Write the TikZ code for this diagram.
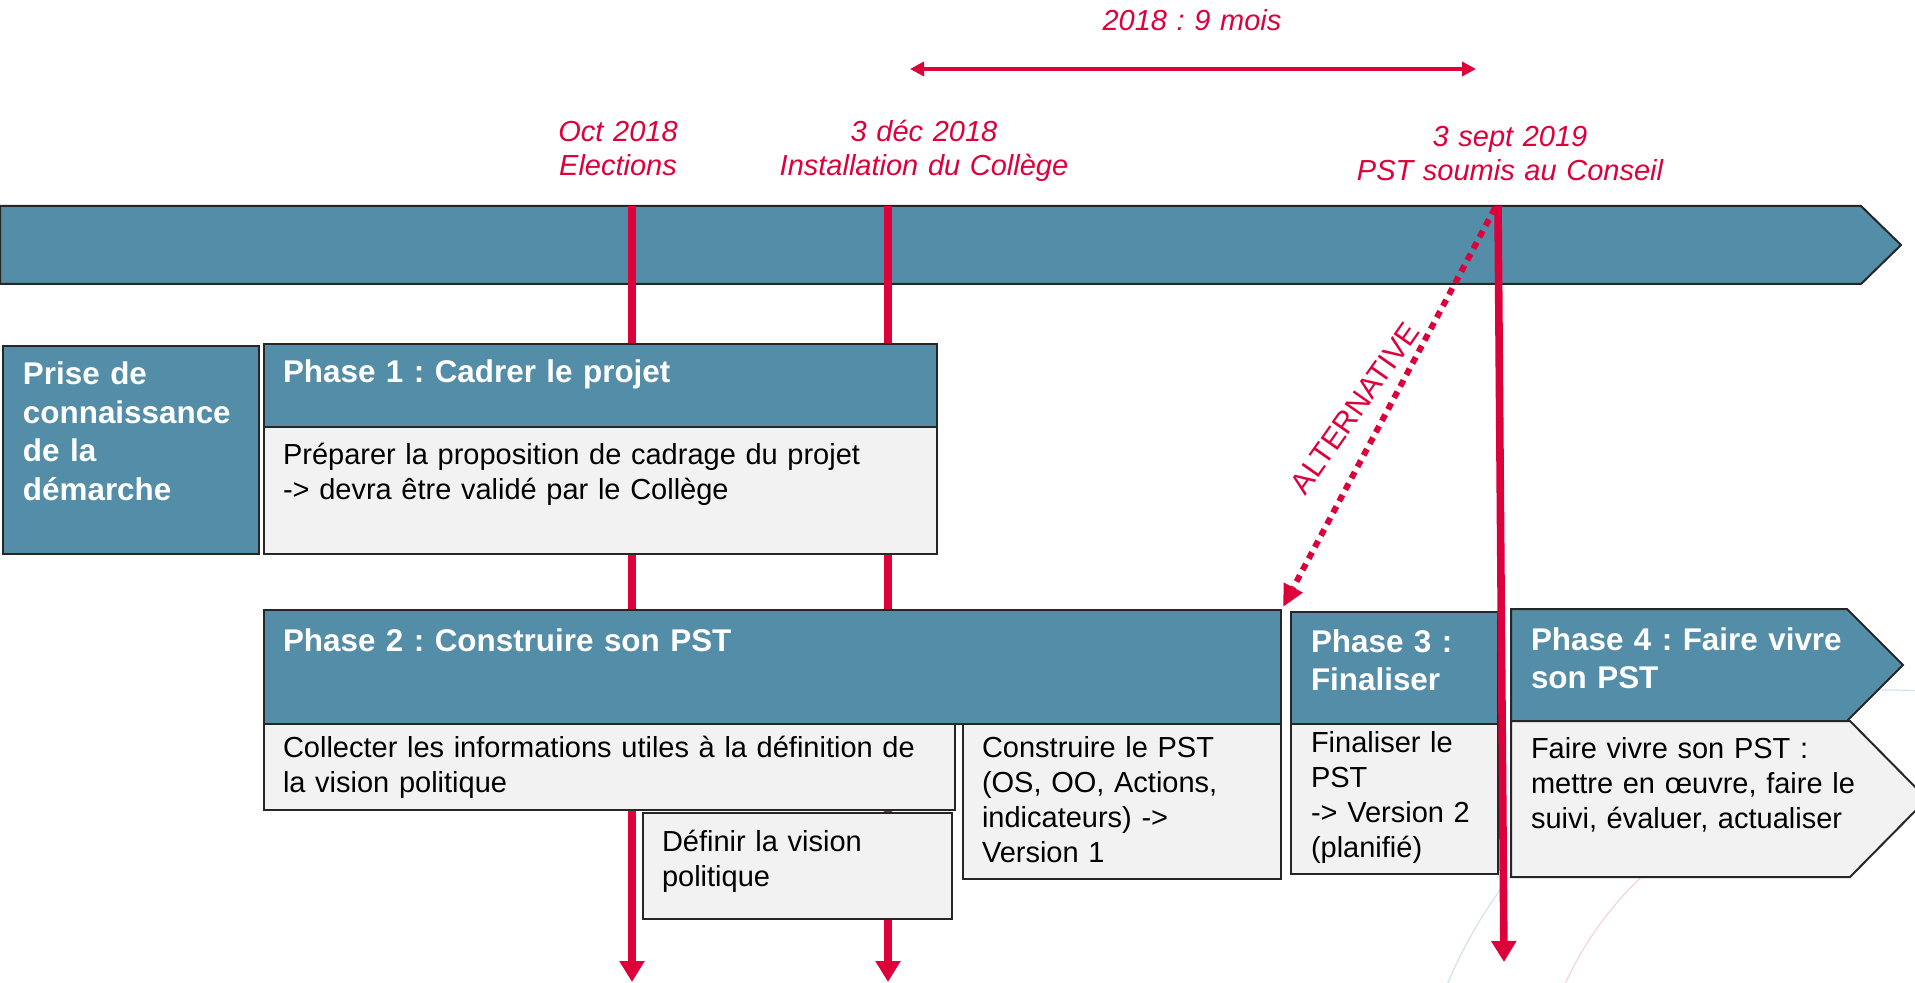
\documentclass[tikz,border=0pt]{standalone}
\usepackage{fontspec}
\setmainfont{Liberation Sans}
\usetikzlibrary{arrows.meta}
\definecolor{bleuphase}{HTML}{548DA8}
\definecolor{grisclair}{HTML}{F2F2F2}
\definecolor{rougejalon}{HTML}{DC003B}
\definecolor{bordure}{HTML}{262626}
\definecolor{arcbleu}{HTML}{D3E2EA}
\definecolor{arcrose}{HTML}{F4D3DC}
\frenchspacing

\begin{document}
\begin{tikzpicture}[x=0.5pt, y=-0.5pt, line join=miter, every node/.style={inner sep=0pt, outer sep=0pt},
	bandeau/.style={draw=bordure, line width=1pt, fill=bleuphase},
	cadre/.style={draw=bordure, line width=1pt, fill=grisclair},
	titre/.style={anchor=base west, text width=400pt, align=left, text=white, font=\fontsize{15.7}{19.25}\selectfont\bfseries},
	texte/.style={anchor=base west, text width=400pt, align=left, text=black, font=\fontsize{14.5}{17.5}\selectfont},
	date/.style={anchor=base, text width=200pt, align=center, text=rougejalon, font=\fontsize{14.5}{17}\selectfont\itshape},
	jalon/.style={draw=rougejalon, line width=3.8pt, -{Triangle[length=10.5pt, width=12pt]}}]
	
	\useasboundingbox (0,0) rectangle (1915,983);
	\clip (0,0) rectangle (1915,983);
	
	% Arcs du fond
	\draw[arcbleu, line width=0.6pt] (1890,1170) circle[radius=480];
	\draw[arcrose, line width=0.6pt] (1875,1124) circle[radius=340];
	
	% Ligne du temps
	\path[bandeau] (0,206) -- (1861,206) -- (1901,245) -- (1861,284) -- (0,284) -- cycle;
	
	% Jalons
	\coordinate (oct-h) at (632,206);
	\coordinate (oct-b) at (632,982);
	\coordinate (dec-h) at (888,206);
	\coordinate (dec-b) at (888,982);
	\coordinate (sept-h) at (1498,206);
	\coordinate (sept-b) at (1504,962);
	\coordinate (alt-h) at (1495,208);
	\coordinate (alt-b) at (1283,607);
	\coordinate (neuf-g) at (910,69);
	\coordinate (neuf-d) at (1476,69);
	\draw[jalon] (oct-h) -- (oct-b);
	\draw[jalon] (dec-h) -- (dec-b);
	
	% Prise de connaissance
	\path[bandeau] (3,346) rectangle (259,554);
	\node[titre] (prise) at (23,385) {Prise de\\connaissance\\de la\\démarche};
	
	% Phase 1
	\path[bandeau] (264,344) rectangle (937,427);
	\node[titre] (p1) at (283,383) {Phase 1 : Cadrer le projet};
	\path[cadre] (264,427) rectangle (937,554);
	\node[texte] (cadrage) at (283,465) {Préparer la proposition de cadrage du projet\\-> devra être validé par le Collège};
	
	% Phase 2
	\path[bandeau] (264,610) rectangle (1281,724);
	\node[titre] (p2) at (283,651) {Phase 2 : Construire son PST};
	\path[cadre] (264,724) rectangle (955,810);
	\node[texte] (collecte) at (283,757) {Collecter les informations utiles à la définition de\\la vision politique};
	\path[cadre] (643,813) rectangle (952,919);
	\node[texte] (vision) at (662,851) {Définir la vision\\politique};
	\path[cadre] (963,724) rectangle (1281,879);
	\node[texte] (construire) at (982,757) {Construire le PST\\(OS, OO, Actions,\\indicateurs) ->\\Version 1};
	
	% Phase 3
	\path[bandeau] (1291,612) rectangle (1498,724);
	\node[titre] (p3) at (1311,652) {Phase 3 :\\Finaliser};
	\path[cadre] (1291,724) rectangle (1498,874);
	\node[texte] (finaliser) at (1311,752) {Finaliser le\\PST\\-> Version 2\\(planifié)};
	
	% Phase 4
	\path[bandeau] (1511,609) -- (1847,609) -- (1903,665) -- (1847,721) -- (1511,721) -- cycle;
	\node[titre] (p4) at (1531,650) {Phase 4 : Faire vivre\\son PST};
	\path[cadre] (1511,721) -- (1850,721) -- (1927,799) -- (1850,877) -- (1511,877) -- cycle;
	\node[texte] (vivre) at (1531,758) {Faire vivre son PST :\\mettre en œuvre, faire le\\suivi, évaluer, actualiser};
	
	% Conseil et alternative
	\draw[jalon] (sept-h) -- (sept-b);
	\draw[rougejalon, line width=3pt, dash pattern=on 3.5pt off 3pt, -{Triangle[length=11pt, width=10pt]}] (alt-h) -- (alt-b);
	\node[rotate=55, text=rougejalon, font=\fontsize{15}{18}\selectfont] (alt) at (1355,408) {ALTERNATIVE};
	
	% Dates
	\draw[rougejalon, line width=2pt, {Triangle[length=7pt, width=7pt]}-{Triangle[length=7pt, width=7pt]}] (neuf-g) -- (neuf-d);
	\node[date] (neuf) at (1192,31) {2018 : 9 mois};
	\node[date] (doct) at (618,142) {Oct 2018\\Elections};
	\node[date] (ddec) at (924,142) {3 déc 2018\\Installation du Collège};
	\node[date] (dsept) at (1510,147) {3 sept 2019\\PST soumis au Conseil};
	
\end{tikzpicture}
\end{document}
